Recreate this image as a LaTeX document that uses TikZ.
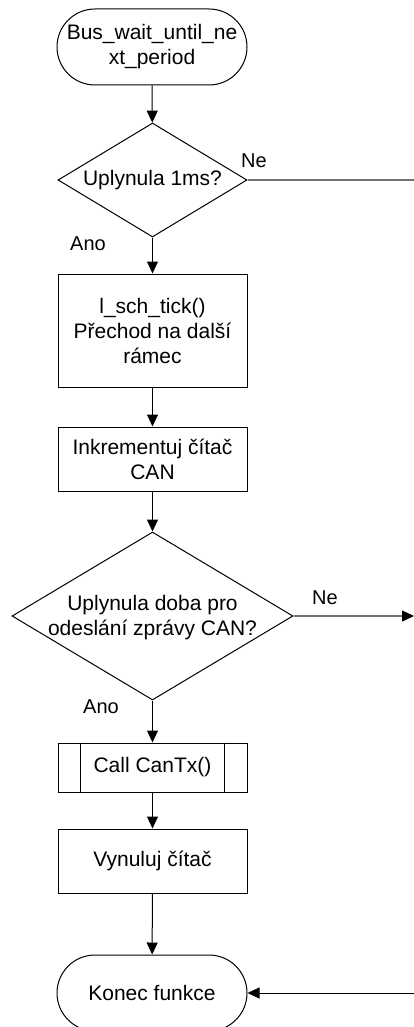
\documentclass[tikz,border=0pt]{standalone}
\usepackage{fontspec}
\setmainfont{Liberation Sans}
\usetikzlibrary{shapes.geometric,arrows.meta}

\tikzset{
  base/.style={draw=black, line width=1pt, inner sep=0pt, align=center,
               font=\fontsize{21}{25}\selectfont},
  terminal/.style={base, rectangle, rounded corners=38pt,
                   minimum width=190pt, minimum height=76pt},
  process/.style={base, rectangle, minimum width=189pt},
  decision/.style={base, diamond},
  lbl/.style={inner sep=0pt, font=\fontsize{20}{24}\selectfont},
  flow/.style={draw=black, line width=1pt,
               -{Triangle[length=12pt,width=11pt]}},
  side/.style={draw=black!55, line width=1.4pt},
  sidearrow/.style={side, -{Triangle[length=12pt,width=11pt,color=black]}},
}

\begin{document}
\begin{tikzpicture}[x=1pt, y=-1pt]
  \useasboundingbox (0,0) rectangle (414,1027);

  % main column of blocks
  \node[terminal] (start) at (152,47) {Bus\_wait\_until\_ne\\xt\_period};

  \node[decision, minimum width=189pt, minimum height=114pt] (d1) at (152.5,180) {};
  \node[base, draw=none] (d1t) at (d1.center) {Uplynula 1ms?};

  \node[process, minimum height=113pt] (tick) at (152.5,330.5)
       {l\_sch\_tick()\\Přechod na další\\rámec};

  \node[process, minimum height=64pt] (inc) at (152.5,459)
       {Inkrementuj čítač\\CAN};

  \node[decision, minimum width=281pt, minimum height=168pt] (d2) at (152.5,616) {};
  \node[base, draw=none] (d2t) at (152.5,618)
       {Uplynula doba pro\\odeslání zprávy CAN?};

  \node[process, minimum height=49pt] (call) at (152.5,767.5) {Call CanTx()};
  \draw[line width=1pt] ([xshift=23pt]call.north west) -- ([xshift=23pt]call.south west);
  \draw[line width=1pt] ([xshift=-23pt]call.north east) -- ([xshift=-23pt]call.south east);

  \node[process, minimum height=64pt] (reset) at (152.5,861) {Vynuluj čítač};

  \node[terminal] (end) at (152,993) {Konec funkce};

  % free ends on the right border
  \coordinate (r1) at (414,180);
  \coordinate (r2) at (414,616);
  \coordinate (r3) at (414,993);

  % connectors
  \draw[flow] (start) -- (d1);
  \draw[flow] (d1) -- (tick);
  \draw[flow] (tick) -- (inc);
  \draw[flow] (inc) -- (d2);
  \draw[flow] (d2) -- (call);
  \draw[flow] (call) -- (reset);
  \draw[flow] (reset) -- (end);

  \draw[side] (d1.east) -- (r1);
  \draw[sidearrow] (d2.east) -- (r2);
  \draw[flow] (r3) -- (end.east);

  % branch labels
  \node[lbl] (ne1) at (254,161) {Ne};
  \node[lbl] (ano1) at (88,244) {Ano};
  \node[lbl] (ne2) at (325,598) {Ne};
  \node[lbl] (ano2) at (101,707) {Ano};
\end{tikzpicture}
\end{document}
